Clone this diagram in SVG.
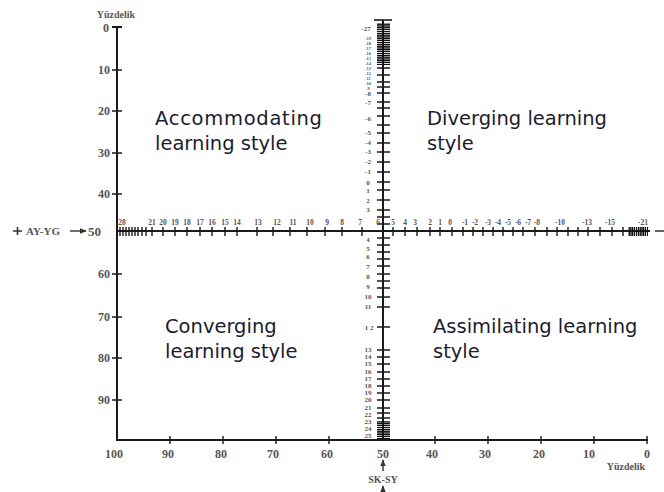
<svg xmlns="http://www.w3.org/2000/svg" width="664" height="492" viewBox="0 0 664 492">
<style>
.ax{stroke:#1a1a1a;stroke-width:2;fill:none}
.tk{stroke:#1a1a1a;stroke-width:1.4;fill:none}
.num{font-family:"Liberation Serif",serif;font-weight:bold;fill:#555}
.lab{font-size:12px;text-anchor:end}
.bl{font-size:12px;text-anchor:middle}
.hn{font-size:7.5px;text-anchor:middle}
.vn{font-size:7px;text-anchor:middle}
.vs{font-size:4.5px;text-anchor:middle}
.q{font-family:"DejaVu Sans",sans-serif;font-size:19.5px;fill:#1c1c30}
</style>
<defs>
<marker id="ah" viewBox="0 0 10 10" refX="9" refY="5" markerWidth="5" markerHeight="5" orient="auto"><path d="M0,1 L10,5 L0,9 z" fill="#333"/></marker>
<pattern id="hh" width="4" height="2.2" patternUnits="userSpaceOnUse"><rect width="4" height="1.5" fill="#111"/></pattern>
<pattern id="vv" width="2.2" height="4" patternUnits="userSpaceOnUse"><rect width="1.5" height="4" fill="#111"/></pattern>
</defs>
<rect width="664" height="492" fill="#ffffff"/>
<g id="connectors">
<line class="ax" x1="117" y1="27" x2="117" y2="441"/>
<line class="ax" x1="112" y1="27" x2="122" y2="27"/>
<line class="ax" x1="116" y1="440" x2="648" y2="440"/>
<g class="tk">
<path d="M112 70H122M112 111H122M112 153H122M112 194H122M112 274H122M112 317H122M112 358H122M112 400H122"/>
<path d="M170 436V444M223 436V444M276 436V444M329 436V444M435 436V444M488 436V444M541 436V444M594 436V444M647 436V444"/>
</g>
<line class="ax" x1="117" y1="231" x2="650" y2="231"/>
<line x1="655" y1="231" x2="664" y2="231" stroke="#333" stroke-width="1.5"/>
<path class="tk" d="M120 227V236M123 227V236M126 227V236M129 227V236M132 227V236M135 227V236M138 227V236M142 227V236M146 227V236M152 227V236M163 227V236M175 227V236M187 227V236M200 227V236M212 227V236M225 227V236M237 227V236M257 227V236M273 227V236M290 227V236M307 227V236M325 227V236M342 227V236M362 227V236M393 227V236M405 227V236M417 227V236M430 227V236M440 227V236M452 227V236M463 227V236M473 227V236M483 227V236M493 227V236M503 227V236M513 227V236M523 227V236M535 227V236M547 227V236M557 227V236M568 227V236M578 227V236M588 227V236M600 227V236M612 227V236M623 227V236"/>
<rect x="628" y="227" width="20" height="9" fill="url(#vv)"/>
<line class="ax" x1="383" y1="20" x2="383" y2="440"/>
<line x1="374" y1="20" x2="392" y2="20" stroke="#1a1a1a" stroke-width="1.6"/>
<rect x="377" y="23" width="13" height="42" fill="url(#hh)"/>
<path class="tk" d="M377 68H390M377 75H390M377 82H390M377 87H390M377 93H390M377 102H390M377 108H390M377 116H390M377 125H390M377 133H390M377 143H390M377 152H390M377 162H390M377 172H390M377 182H390M377 190H390M377 200H390M377 210H390M377 217H390M377 224H390M377 238H390M377 245H390M377 252H390M377 259H390M377 266H390M377 274H390M377 281H390M377 288H390M377 297H390M377 307H390M377 327H390M377 350H390M377 357H390M377 364H390M377 372H390M377 379H390M377 386H390M377 393H390M377 400H390M377 408H390M377 413H390M377 418H390"/>
<rect x="377" y="421" width="13" height="19" fill="url(#hh)"/>
<line x1="70" y1="231" x2="86" y2="231" stroke="#333" stroke-width="1.4" marker-end="url(#ah)"/>
<line x1="383" y1="471" x2="383" y2="460" stroke="#333" stroke-width="1.4" marker-end="url(#ah)"/>
<line x1="383" y1="492" x2="383" y2="486" stroke="#333" stroke-width="1.4" marker-end="url(#ah)"/>
<path d="M13 231H22M17.5 227V235" stroke="#333" stroke-width="1.6"/>
</g>
<g id="axis-labels" class="num">
<text x="116" y="18" font-size="10" text-anchor="middle">Yüzdelik</text>
<text class="lab" x="109" y="32">0</text>
<text class="lab" x="110" y="74">10</text>
<text class="lab" x="110" y="115">20</text>
<text class="lab" x="110" y="157">30</text>
<text class="lab" x="110" y="198">40</text>
<text class="lab" x="110" y="278">60</text>
<text class="lab" x="110" y="321">70</text>
<text class="lab" x="110" y="362">80</text>
<text class="lab" x="110" y="404">90</text>
<text x="26" y="235" font-size="11">AY-YG</text>
<text x="88" y="236" font-size="13">50</text>
<text class="bl" x="114" y="458">100</text>
<text class="bl" x="168" y="458">90</text>
<text class="bl" x="221" y="458">80</text>
<text class="bl" x="273" y="458">70</text>
<text class="bl" x="327" y="458">60</text>
<text class="bl" x="383" y="458">50</text>
<text class="bl" x="432" y="458">40</text>
<text class="bl" x="485" y="458">30</text>
<text class="bl" x="539" y="458">20</text>
<text class="bl" x="589" y="458">10</text>
<text class="bl" x="647" y="458">0</text>
<text x="645" y="470" font-size="10" text-anchor="end">Yüzdelik</text>
<text x="383" y="483" font-size="10" text-anchor="middle">SK-SY</text>
</g>
<g id="h-scale" class="num">
<text class="hn" x="122" y="225">28</text>
<text class="hn" x="152" y="225">21</text>
<text class="hn" x="163" y="225">20</text>
<text class="hn" x="175" y="225">19</text>
<text class="hn" x="187" y="225">18</text>
<text class="hn" x="200" y="225">17</text>
<text class="hn" x="212" y="225">16</text>
<text class="hn" x="225" y="225">15</text>
<text class="hn" x="237" y="225">14</text>
<text class="hn" x="258" y="225">13</text>
<text class="hn" x="277" y="225">12</text>
<text class="hn" x="293" y="225">11</text>
<text class="hn" x="310" y="225">10</text>
<text class="hn" x="327" y="225">9</text>
<text class="hn" x="342" y="225">8</text>
<text class="hn" x="360" y="225">7</text>
<text class="hn" x="378" y="225">6</text>
<text class="hn" x="393" y="225">5</text>
<text class="hn" x="405" y="225">4</text>
<text class="hn" x="415" y="225">3</text>
<text class="hn" x="430" y="225">2</text>
<text class="hn" x="440" y="225">1</text>
<text class="hn" x="450" y="225">0</text>
<text class="hn" x="465" y="225">-1</text>
<text class="hn" x="475" y="225">-2</text>
<text class="hn" x="488" y="225">-3</text>
<text class="hn" x="498" y="225">-4</text>
<text class="hn" x="508" y="225">-5</text>
<text class="hn" x="518" y="225">-6</text>
<text class="hn" x="528" y="225">-7</text>
<text class="hn" x="537" y="225">-8</text>
<text class="hn" x="560" y="225">-10</text>
<text class="hn" x="587" y="225">-13</text>
<text class="hn" x="610" y="225">-15</text>
<text class="hn" x="643" y="225">-21</text>
</g>
<g id="v-scale" class="num">
<text class="vn" x="366" y="31">-27</text>
<text class="vs" x="368" y="40">-19</text>
<text class="vs" x="368" y="45">-18</text>
<text class="vs" x="368" y="50">-17</text>
<text class="vs" x="368" y="55">-16</text>
<text class="vs" x="368" y="60">-15</text>
<text class="vs" x="368" y="65">-14</text>
<text class="vs" x="368" y="70">-13</text>
<text class="vs" x="368" y="75">-12</text>
<text class="vs" x="368" y="80">-11</text>
<text class="vs" x="368" y="85">-10</text>
<text class="vs" x="368" y="90">-9</text>
<text class="vn" x="368" y="96">-8</text>
<text class="vn" x="368" y="105">-7</text>
<text class="vn" x="368" y="121">-6</text>
<text class="vn" x="368" y="135">-5</text>
<text class="vn" x="368" y="145">-4</text>
<text class="vn" x="368" y="154">-3</text>
<text class="vn" x="368" y="164">-2</text>
<text class="vn" x="368" y="174">-1</text>
<text class="vn" x="368" y="185">0</text>
<text class="vn" x="368" y="193">1</text>
<text class="vn" x="368" y="203">2</text>
<text class="vn" x="368" y="212">3</text>
<text class="vn" x="368" y="242">4</text>
<text class="vn" x="368" y="251">5</text>
<text class="vn" x="368" y="259">6</text>
<text class="vn" x="368" y="269">7</text>
<text class="vn" x="368" y="279">8</text>
<text class="vn" x="368" y="289">9</text>
<text class="vn" x="368" y="299">10</text>
<text class="vn" x="368" y="309">11</text>
<text class="vn" x="369" y="330">1 2</text>
<text class="vn" x="368" y="352">13</text>
<text class="vn" x="368" y="359">14</text>
<text class="vn" x="368" y="366">15</text>
<text class="vn" x="368" y="374">16</text>
<text class="vn" x="368" y="381">17</text>
<text class="vn" x="368" y="388">18</text>
<text class="vn" x="368" y="395">19</text>
<text class="vn" x="368" y="402">20</text>
<text class="vn" x="368" y="410">21</text>
<text class="vn" x="368" y="417">22</text>
<text class="vn" x="368" y="424">23</text>
<text class="vn" x="368" y="431">24</text>
<text class="vn" x="368" y="438">25</text>
</g>
<g id="accommodating" class="q">
<text x="155" y="125" textLength="167">Accommodating</text>
<text x="155" y="150">learning style</text>
</g>
<g id="diverging" class="q">
<text x="427" y="125">Diverging learning</text>
<text x="427" y="150">style</text>
</g>
<g id="converging" class="q">
<text x="165" y="333">Converging</text>
<text x="165" y="358">learning style</text>
</g>
<g id="assimilating" class="q">
<text x="433" y="333">Assimilating learning</text>
<text x="433" y="358">style</text>
</g>
</svg>
